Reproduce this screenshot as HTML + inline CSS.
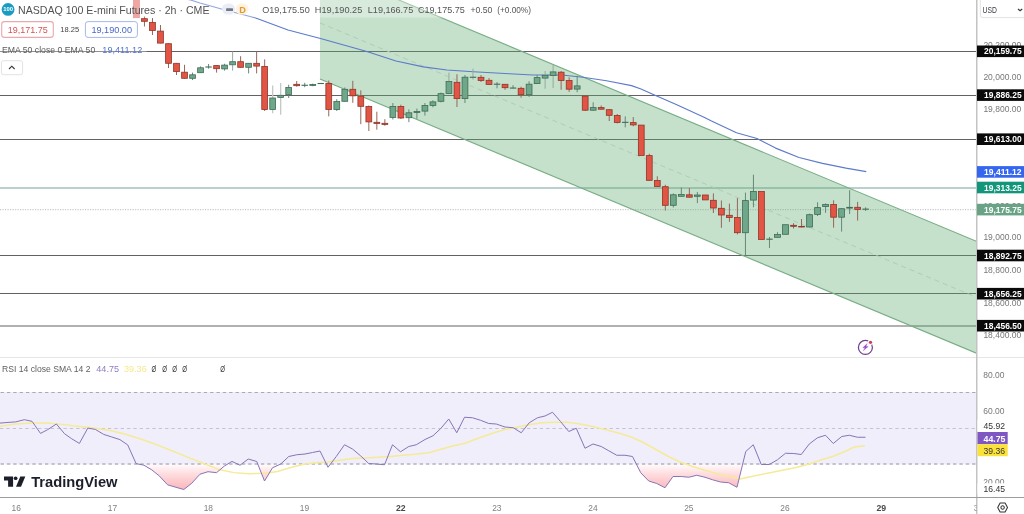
<!DOCTYPE html>
<html><head><meta charset="utf-8"><title>NQ chart</title>
<style>html,body{margin:0;padding:0;background:#fff;overflow:hidden}body{width:1024px;height:514px;position:relative;font-family:"Liberation Sans",sans-serif}</style></head>
<body>
<svg width="1024" height="514" viewBox="0 0 1024 514" style="position:absolute;left:0;top:0;will-change:transform;font-family:'Liberation Sans',sans-serif">
<defs><linearGradient id="os" x1="0" y1="464" x2="0" y2="490" gradientUnits="userSpaceOnUse"><stop offset="0" stop-color="#ff8f96" stop-opacity="0.02"/><stop offset="1" stop-color="#f9a3a9" stop-opacity="0.8"/></linearGradient>
<clipPath id="cp"><rect x="0" y="0" width="977" height="357"/></clipPath>
<clipPath id="cr"><rect x="0" y="358" width="977" height="139"/></clipPath></defs>
<rect width="1024" height="514" fill="#fff"/>
<g clip-path="url(#cp)">
<line x1="0" y1="209.7" x2="977" y2="209.7" stroke="#c9c9cf" stroke-width="1.3" stroke-dasharray="1.2 1.3"/>
<line x1="0" y1="51.5" x2="977" y2="51.5" stroke="#626262" stroke-width="1"/>
<line x1="0" y1="95.5" x2="977" y2="95.5" stroke="#626262" stroke-width="1"/>
<line x1="0" y1="139.5" x2="977" y2="139.5" stroke="#626262" stroke-width="1"/>
<line x1="0" y1="255.5" x2="977" y2="255.5" stroke="#626262" stroke-width="1"/>
<line x1="0" y1="293.5" x2="977" y2="293.5" stroke="#626262" stroke-width="1"/>
<line x1="0" y1="326.0" x2="977" y2="326.0" stroke="#626262" stroke-width="1"/>
<line x1="0" y1="188" x2="977" y2="188" stroke="#bad0cc" stroke-width="2"/>
<polygon points="320,-33.0 977,241.6 977,353.4 320,78.9" fill="#5fa870" fill-opacity="0.36"/>
<line x1="320" y1="-33.0" x2="977" y2="241.6" stroke="#78ad84" stroke-width="1.1"/>
<line x1="320" y1="78.9" x2="977" y2="353.4" stroke="#78ad84" stroke-width="1.1"/>
<line x1="320" y1="22.950000000000003" x2="977" y2="297.5" stroke="#b0cdb4" stroke-width="1" stroke-dasharray="5 4"/>
<polyline points="186.00,-1.00 190.50,0.00 200.00,3.00 225.00,10.00 255.00,17.80 288.00,30.00 320.50,38.50 366.00,51.25 396.00,61.00 423.40,66.90 446.90,70.00 473.40,71.80 509.40,73.75 532.80,75.00 556.00,75.00 564.30,75.20 583.00,77.30 606.50,80.80 631.50,85.60 641.00,89.00 655.00,95.30 676.80,104.70 704.00,117.20 711.50,121.00 736.50,132.70 757.00,138.50 775.60,148.10 799.00,157.50 822.50,163.40 846.00,168.10 866.25,171.60" fill="none" stroke="#5c7bcb" stroke-width="1.15" stroke-linejoin="round"/>
<rect x="133.55" y="-4.70" width="5.8" height="22.40" fill="#f0a7a3" stroke="#e79c98" stroke-width="0.8"/>
<line x1="144.46" y1="16.4" x2="144.46" y2="26.5" stroke="#96665b" stroke-width="1"/>
<rect x="141.56" y="18.70" width="5.8" height="2.60" fill="#e25444" stroke="#8e3629" stroke-width="0.8"/>
<line x1="152.48" y1="18" x2="152.48" y2="35" stroke="#96665b" stroke-width="1"/>
<rect x="149.58" y="22.50" width="5.8" height="8.00" fill="#e25444" stroke="#8e3629" stroke-width="0.8"/>
<line x1="160.49" y1="25" x2="160.49" y2="43.4" stroke="#96665b" stroke-width="1"/>
<rect x="157.59" y="31.10" width="5.8" height="12.00" fill="#e25444" stroke="#8e3629" stroke-width="0.8"/>
<line x1="168.50" y1="43.4" x2="168.50" y2="68" stroke="#96665b" stroke-width="1"/>
<rect x="165.60" y="43.70" width="5.8" height="19.60" fill="#e25444" stroke="#8e3629" stroke-width="0.8"/>
<line x1="176.51" y1="63" x2="176.51" y2="75" stroke="#96665b" stroke-width="1"/>
<rect x="173.61" y="63.30" width="5.8" height="8.30" fill="#e25444" stroke="#8e3629" stroke-width="0.8"/>
<line x1="184.53" y1="64.8" x2="184.53" y2="78.6" stroke="#96665b" stroke-width="1"/>
<rect x="181.63" y="72.20" width="5.8" height="6.10" fill="#e25444" stroke="#8e3629" stroke-width="0.8"/>
<line x1="192.54" y1="72.6" x2="192.54" y2="80" stroke="#66877a" stroke-width="1"/>
<rect x="189.64" y="74.80" width="5.8" height="3.50" fill="#6ea789" stroke="#3f6b55" stroke-width="0.8"/>
<line x1="200.55" y1="66.4" x2="200.55" y2="73" stroke="#66877a" stroke-width="1"/>
<rect x="197.65" y="67.80" width="5.8" height="4.90" fill="#6ea789" stroke="#3f6b55" stroke-width="0.8"/>
<line x1="208.57" y1="64" x2="208.57" y2="68.7" stroke="#66877a" stroke-width="1"/>
<line x1="205.37" y1="67.00" x2="211.77" y2="67.00" stroke="#3f6b55" stroke-width="1.1"/>
<line x1="216.58" y1="65.3" x2="216.58" y2="72.6" stroke="#96665b" stroke-width="1"/>
<rect x="213.68" y="65.60" width="5.8" height="3.10" fill="#e25444" stroke="#8e3629" stroke-width="0.8"/>
<line x1="224.59" y1="63.75" x2="224.59" y2="70.6" stroke="#66877a" stroke-width="1"/>
<rect x="221.69" y="65.10" width="5.8" height="3.80" fill="#6ea789" stroke="#3f6b55" stroke-width="0.8"/>
<line x1="232.61" y1="51.5" x2="232.61" y2="70.6" stroke="#95aaa0" stroke-width="1"/>
<rect x="229.71" y="61.70" width="5.8" height="3.10" fill="#6ea789" stroke="#3f6b55" stroke-width="0.8"/>
<line x1="240.62" y1="56.2" x2="240.62" y2="67.6" stroke="#96665b" stroke-width="1"/>
<rect x="237.72" y="61.70" width="5.8" height="5.60" fill="#e25444" stroke="#8e3629" stroke-width="0.8"/>
<line x1="248.63" y1="63" x2="248.63" y2="73.4" stroke="#66877a" stroke-width="1"/>
<rect x="245.73" y="63.30" width="5.8" height="4.00" fill="#6ea789" stroke="#3f6b55" stroke-width="0.8"/>
<line x1="256.64" y1="51.5" x2="256.64" y2="73.4" stroke="#96665b" stroke-width="1"/>
<rect x="253.74" y="63.30" width="5.8" height="2.80" fill="#e25444" stroke="#8e3629" stroke-width="0.8"/>
<line x1="264.66" y1="59.4" x2="264.66" y2="111" stroke="#96665b" stroke-width="1"/>
<rect x="261.76" y="66.40" width="5.8" height="43.10" fill="#e25444" stroke="#8e3629" stroke-width="0.8"/>
<line x1="272.67" y1="85.6" x2="272.67" y2="113.3" stroke="#c4c8c6" stroke-width="1.3"/>
<rect x="269.77" y="98.00" width="5.8" height="11.50" fill="#6ea789" stroke="#3f6b55" stroke-width="0.8"/>
<line x1="280.68" y1="83" x2="280.68" y2="114.8" stroke="#c4c8c6" stroke-width="1.3"/>
<rect x="277.78" y="95.30" width="5.8" height="2.10" fill="#6ea789" stroke="#3f6b55" stroke-width="0.8"/>
<line x1="288.70" y1="84.7" x2="288.70" y2="98" stroke="#66877a" stroke-width="1"/>
<rect x="285.80" y="87.50" width="5.8" height="7.20" fill="#6ea789" stroke="#3f6b55" stroke-width="0.8"/>
<line x1="296.71" y1="81" x2="296.71" y2="86.7" stroke="#96665b" stroke-width="1"/>
<rect x="293.81" y="84.30" width="5.8" height="1.40" fill="#e25444" stroke="#8e3629" stroke-width="0.8"/>
<line x1="304.72" y1="82.8" x2="304.72" y2="87.2" stroke="#66877a" stroke-width="1"/>
<line x1="301.52" y1="85.30" x2="307.92" y2="85.30" stroke="#3f6b55" stroke-width="1.1"/>
<line x1="312.74" y1="83.6" x2="312.74" y2="86.25" stroke="#66877a" stroke-width="1"/>
<rect x="309.84" y="84.50" width="5.8" height="1.00" fill="#6ea789" stroke="#3f6b55" stroke-width="0.8"/>
<line x1="317.55" y1="83.50" x2="323.95" y2="83.50" stroke="#3f6b55" stroke-width="1.1"/>
<line x1="328.76" y1="80.5" x2="328.76" y2="116.4" stroke="#96665b" stroke-width="1"/>
<rect x="325.86" y="83.40" width="5.8" height="26.10" fill="#e25444" stroke="#8e3629" stroke-width="0.8"/>
<line x1="336.77" y1="99.2" x2="336.77" y2="111" stroke="#66877a" stroke-width="1"/>
<rect x="333.88" y="101.50" width="5.8" height="8.00" fill="#6ea789" stroke="#3f6b55" stroke-width="0.8"/>
<line x1="344.79" y1="87.5" x2="344.79" y2="101.6" stroke="#66877a" stroke-width="1"/>
<rect x="341.89" y="89.30" width="5.8" height="12.00" fill="#6ea789" stroke="#3f6b55" stroke-width="0.8"/>
<line x1="352.80" y1="80.8" x2="352.80" y2="102.8" stroke="#96665b" stroke-width="1"/>
<rect x="349.90" y="89.30" width="5.8" height="6.50" fill="#e25444" stroke="#8e3629" stroke-width="0.8"/>
<line x1="360.81" y1="90.3" x2="360.81" y2="124.2" stroke="#96665b" stroke-width="1"/>
<rect x="357.91" y="96.10" width="5.8" height="10.20" fill="#e25444" stroke="#8e3629" stroke-width="0.8"/>
<line x1="368.83" y1="105.5" x2="368.83" y2="131" stroke="#96665b" stroke-width="1"/>
<rect x="365.93" y="106.50" width="5.8" height="15.40" fill="#e25444" stroke="#8e3629" stroke-width="0.8"/>
<line x1="376.84" y1="111.7" x2="376.84" y2="129.7" stroke="#96665b" stroke-width="1"/>
<rect x="373.94" y="122.30" width="5.8" height="1.20" fill="#e25444" stroke="#8e3629" stroke-width="0.8"/>
<line x1="384.85" y1="119.2" x2="384.85" y2="125.8" stroke="#96665b" stroke-width="1"/>
<rect x="381.95" y="123.30" width="5.8" height="1.10" fill="#e25444" stroke="#8e3629" stroke-width="0.8"/>
<line x1="392.87" y1="103" x2="392.87" y2="119.5" stroke="#66877a" stroke-width="1"/>
<rect x="389.97" y="106.50" width="5.8" height="10.90" fill="#6ea789" stroke="#3f6b55" stroke-width="0.8"/>
<line x1="400.88" y1="104.7" x2="400.88" y2="119" stroke="#96665b" stroke-width="1"/>
<rect x="397.98" y="106.50" width="5.8" height="11.50" fill="#e25444" stroke="#8e3629" stroke-width="0.8"/>
<line x1="408.89" y1="109.4" x2="408.89" y2="122.2" stroke="#66877a" stroke-width="1"/>
<rect x="405.99" y="112.80" width="5.8" height="4.90" fill="#6ea789" stroke="#3f6b55" stroke-width="0.8"/>
<line x1="416.90" y1="108.6" x2="416.90" y2="118.8" stroke="#66877a" stroke-width="1"/>
<rect x="414.00" y="111.50" width="5.8" height="1.00" fill="#6ea789" stroke="#3f6b55" stroke-width="0.8"/>
<line x1="424.92" y1="103" x2="424.92" y2="115.6" stroke="#66877a" stroke-width="1"/>
<rect x="422.02" y="105.50" width="5.8" height="5.60" fill="#6ea789" stroke="#3f6b55" stroke-width="0.8"/>
<line x1="432.93" y1="100.3" x2="432.93" y2="107.3" stroke="#66877a" stroke-width="1"/>
<rect x="430.03" y="101.90" width="5.8" height="3.60" fill="#6ea789" stroke="#3f6b55" stroke-width="0.8"/>
<line x1="440.94" y1="92.5" x2="440.94" y2="102.3" stroke="#66877a" stroke-width="1"/>
<rect x="438.04" y="93.70" width="5.8" height="7.60" fill="#6ea789" stroke="#3f6b55" stroke-width="0.8"/>
<line x1="448.96" y1="72.6" x2="448.96" y2="93.8" stroke="#95aaa0" stroke-width="1"/>
<rect x="446.06" y="81.50" width="5.8" height="12.00" fill="#6ea789" stroke="#3f6b55" stroke-width="0.8"/>
<line x1="456.97" y1="74.2" x2="456.97" y2="107" stroke="#96665b" stroke-width="1"/>
<rect x="454.07" y="82.30" width="5.8" height="16.30" fill="#e25444" stroke="#8e3629" stroke-width="0.8"/>
<line x1="464.98" y1="75" x2="464.98" y2="103" stroke="#66877a" stroke-width="1"/>
<rect x="462.08" y="77.20" width="5.8" height="21.40" fill="#6ea789" stroke="#3f6b55" stroke-width="0.8"/>
<line x1="473.00" y1="68.75" x2="473.00" y2="79.7" stroke="#95aaa0" stroke-width="1"/>
<line x1="469.80" y1="77.25" x2="476.20" y2="77.25" stroke="#3f6b55" stroke-width="1.1"/>
<line x1="481.01" y1="75" x2="481.01" y2="82" stroke="#96665b" stroke-width="1"/>
<rect x="478.11" y="77.30" width="5.8" height="3.20" fill="#e25444" stroke="#8e3629" stroke-width="0.8"/>
<line x1="489.02" y1="78.1" x2="489.02" y2="84.7" stroke="#96665b" stroke-width="1"/>
<rect x="486.12" y="80.30" width="5.8" height="4.10" fill="#e25444" stroke="#8e3629" stroke-width="0.8"/>
<line x1="497.03" y1="82" x2="497.03" y2="88.3" stroke="#66877a" stroke-width="1"/>
<line x1="493.83" y1="84.20" x2="500.23" y2="84.20" stroke="#3f6b55" stroke-width="1.1"/>
<line x1="505.05" y1="84" x2="505.05" y2="89.8" stroke="#96665b" stroke-width="1"/>
<rect x="502.15" y="84.30" width="5.8" height="3.40" fill="#e25444" stroke="#8e3629" stroke-width="0.8"/>
<line x1="513.06" y1="85.2" x2="513.06" y2="88.4" stroke="#66877a" stroke-width="1"/>
<line x1="509.86" y1="88.05" x2="516.26" y2="88.05" stroke="#3f6b55" stroke-width="1.1"/>
<line x1="521.07" y1="86.7" x2="521.07" y2="97.7" stroke="#96665b" stroke-width="1"/>
<rect x="518.17" y="88.30" width="5.8" height="6.40" fill="#e25444" stroke="#8e3629" stroke-width="0.8"/>
<line x1="529.09" y1="81.25" x2="529.09" y2="96.9" stroke="#66877a" stroke-width="1"/>
<rect x="526.19" y="84.20" width="5.8" height="10.50" fill="#6ea789" stroke="#3f6b55" stroke-width="0.8"/>
<line x1="537.10" y1="75" x2="537.10" y2="83.9" stroke="#66877a" stroke-width="1"/>
<rect x="534.20" y="77.60" width="5.8" height="6.00" fill="#6ea789" stroke="#3f6b55" stroke-width="0.8"/>
<line x1="545.11" y1="71" x2="545.11" y2="88.75" stroke="#95aaa0" stroke-width="1"/>
<rect x="542.21" y="75.30" width="5.8" height="2.80" fill="#6ea789" stroke="#3f6b55" stroke-width="0.8"/>
<line x1="553.13" y1="64.8" x2="553.13" y2="88" stroke="#95aaa0" stroke-width="1"/>
<rect x="550.23" y="71.90" width="5.8" height="3.60" fill="#6ea789" stroke="#3f6b55" stroke-width="0.8"/>
<line x1="561.14" y1="71" x2="561.14" y2="89.8" stroke="#96665b" stroke-width="1"/>
<rect x="558.24" y="72.20" width="5.8" height="8.30" fill="#e25444" stroke="#8e3629" stroke-width="0.8"/>
<line x1="569.15" y1="77.3" x2="569.15" y2="91.9" stroke="#96665b" stroke-width="1"/>
<rect x="566.25" y="80.50" width="5.8" height="8.70" fill="#e25444" stroke="#8e3629" stroke-width="0.8"/>
<line x1="577.16" y1="75.8" x2="577.16" y2="92.2" stroke="#66877a" stroke-width="1"/>
<rect x="574.26" y="85.90" width="5.8" height="3.20" fill="#6ea789" stroke="#3f6b55" stroke-width="0.8"/>
<line x1="585.18" y1="95.8" x2="585.18" y2="111" stroke="#96665b" stroke-width="1"/>
<rect x="582.28" y="96.10" width="5.8" height="14.10" fill="#e25444" stroke="#8e3629" stroke-width="0.8"/>
<line x1="593.19" y1="102.3" x2="593.19" y2="110.5" stroke="#66877a" stroke-width="1"/>
<rect x="590.29" y="107.60" width="5.8" height="2.60" fill="#6ea789" stroke="#3f6b55" stroke-width="0.8"/>
<line x1="601.20" y1="105.5" x2="601.20" y2="109.5" stroke="#96665b" stroke-width="1"/>
<rect x="598.30" y="107.60" width="5.8" height="1.60" fill="#e25444" stroke="#8e3629" stroke-width="0.8"/>
<line x1="609.22" y1="109.4" x2="609.22" y2="121" stroke="#96665b" stroke-width="1"/>
<rect x="606.32" y="109.70" width="5.8" height="5.60" fill="#e25444" stroke="#8e3629" stroke-width="0.8"/>
<line x1="617.23" y1="114" x2="617.23" y2="123.4" stroke="#96665b" stroke-width="1"/>
<rect x="614.33" y="115.50" width="5.8" height="6.90" fill="#e25444" stroke="#8e3629" stroke-width="0.8"/>
<line x1="625.24" y1="116.4" x2="625.24" y2="127.3" stroke="#66877a" stroke-width="1"/>
<line x1="622.04" y1="122.35" x2="628.44" y2="122.35" stroke="#3f6b55" stroke-width="1.1"/>
<line x1="633.26" y1="117.1" x2="633.26" y2="126.25" stroke="#96665b" stroke-width="1"/>
<rect x="630.36" y="122.60" width="5.8" height="2.30" fill="#e25444" stroke="#8e3629" stroke-width="0.8"/>
<rect x="638.37" y="125.10" width="5.8" height="30.40" fill="#e25444" stroke="#8e3629" stroke-width="0.8"/>
<line x1="649.28" y1="153.75" x2="649.28" y2="180.6" stroke="#96665b" stroke-width="1"/>
<rect x="646.38" y="155.60" width="5.8" height="24.70" fill="#e25444" stroke="#8e3629" stroke-width="0.8"/>
<line x1="657.30" y1="176.3" x2="657.30" y2="186.8" stroke="#96665b" stroke-width="1"/>
<rect x="654.40" y="180.50" width="5.8" height="6.00" fill="#e25444" stroke="#8e3629" stroke-width="0.8"/>
<line x1="665.31" y1="184.8" x2="665.31" y2="210.6" stroke="#96665b" stroke-width="1"/>
<rect x="662.41" y="186.70" width="5.8" height="18.60" fill="#e25444" stroke="#8e3629" stroke-width="0.8"/>
<line x1="673.32" y1="193.4" x2="673.32" y2="207.5" stroke="#66877a" stroke-width="1"/>
<rect x="670.42" y="194.80" width="5.8" height="10.50" fill="#6ea789" stroke="#3f6b55" stroke-width="0.8"/>
<line x1="681.33" y1="187.5" x2="681.33" y2="196.6" stroke="#66877a" stroke-width="1"/>
<rect x="678.43" y="194.50" width="5.8" height="1.80" fill="#6ea789" stroke="#3f6b55" stroke-width="0.8"/>
<line x1="689.35" y1="188" x2="689.35" y2="197.5" stroke="#96665b" stroke-width="1"/>
<rect x="686.45" y="194.80" width="5.8" height="2.40" fill="#e25444" stroke="#8e3629" stroke-width="0.8"/>
<line x1="697.36" y1="191.9" x2="697.36" y2="203.1" stroke="#66877a" stroke-width="1"/>
<rect x="694.46" y="195.00" width="5.8" height="1.30" fill="#6ea789" stroke="#3f6b55" stroke-width="0.8"/>
<rect x="702.47" y="195.00" width="5.8" height="4.90" fill="#e25444" stroke="#8e3629" stroke-width="0.8"/>
<line x1="713.39" y1="193.4" x2="713.39" y2="213" stroke="#96665b" stroke-width="1"/>
<rect x="710.49" y="200.30" width="5.8" height="7.70" fill="#e25444" stroke="#8e3629" stroke-width="0.8"/>
<line x1="721.40" y1="200.5" x2="721.40" y2="227.8" stroke="#96665b" stroke-width="1"/>
<rect x="718.50" y="208.30" width="5.8" height="6.70" fill="#e25444" stroke="#8e3629" stroke-width="0.8"/>
<line x1="729.41" y1="203.6" x2="729.41" y2="221.9" stroke="#96665b" stroke-width="1"/>
<rect x="726.51" y="215.30" width="5.8" height="2.10" fill="#e25444" stroke="#8e3629" stroke-width="0.8"/>
<line x1="737.42" y1="198.1" x2="737.42" y2="234.4" stroke="#96665b" stroke-width="1"/>
<rect x="734.52" y="217.50" width="5.8" height="15.20" fill="#e25444" stroke="#8e3629" stroke-width="0.8"/>
<line x1="745.44" y1="192.6" x2="745.44" y2="255" stroke="#66877a" stroke-width="1"/>
<rect x="742.54" y="200.60" width="5.8" height="32.10" fill="#6ea789" stroke="#3f6b55" stroke-width="0.8"/>
<line x1="753.45" y1="174.7" x2="753.45" y2="207.3" stroke="#66877a" stroke-width="1"/>
<rect x="750.55" y="191.50" width="5.8" height="8.60" fill="#6ea789" stroke="#3f6b55" stroke-width="0.8"/>
<rect x="758.56" y="191.50" width="5.8" height="48.00" fill="#e25444" stroke="#8e3629" stroke-width="0.8"/>
<line x1="769.48" y1="237" x2="769.48" y2="248" stroke="#66877a" stroke-width="1"/>
<line x1="766.28" y1="239.20" x2="772.68" y2="239.20" stroke="#3f6b55" stroke-width="1.1"/>
<line x1="777.49" y1="232.2" x2="777.49" y2="237.6" stroke="#66877a" stroke-width="1"/>
<rect x="774.59" y="234.50" width="5.8" height="2.80" fill="#6ea789" stroke="#3f6b55" stroke-width="0.8"/>
<rect x="782.60" y="224.70" width="5.8" height="9.60" fill="#6ea789" stroke="#3f6b55" stroke-width="0.8"/>
<line x1="793.52" y1="223.2" x2="793.52" y2="228.5" stroke="#96665b" stroke-width="1"/>
<rect x="790.62" y="225.30" width="5.8" height="1.00" fill="#e25444" stroke="#8e3629" stroke-width="0.8"/>
<line x1="801.53" y1="219" x2="801.53" y2="227.3" stroke="#96665b" stroke-width="1"/>
<rect x="798.63" y="226.40" width="5.8" height="0.60" fill="#e25444" stroke="#8e3629" stroke-width="0.8"/>
<line x1="809.54" y1="213.6" x2="809.54" y2="227.3" stroke="#66877a" stroke-width="1"/>
<rect x="806.64" y="214.70" width="5.8" height="12.30" fill="#6ea789" stroke="#3f6b55" stroke-width="0.8"/>
<line x1="817.56" y1="202.3" x2="817.56" y2="216" stroke="#66877a" stroke-width="1"/>
<rect x="814.66" y="207.60" width="5.8" height="6.80" fill="#6ea789" stroke="#3f6b55" stroke-width="0.8"/>
<line x1="825.57" y1="203.4" x2="825.57" y2="212.8" stroke="#66877a" stroke-width="1"/>
<rect x="822.67" y="204.50" width="5.8" height="2.10" fill="#6ea789" stroke="#3f6b55" stroke-width="0.8"/>
<line x1="833.58" y1="200.3" x2="833.58" y2="227.7" stroke="#96665b" stroke-width="1"/>
<rect x="830.68" y="204.50" width="5.8" height="12.70" fill="#e25444" stroke="#8e3629" stroke-width="0.8"/>
<line x1="841.59" y1="208.4" x2="841.59" y2="231.6" stroke="#66877a" stroke-width="1"/>
<rect x="838.69" y="208.70" width="5.8" height="8.50" fill="#6ea789" stroke="#3f6b55" stroke-width="0.8"/>
<line x1="849.61" y1="190.2" x2="849.61" y2="214" stroke="#66877a" stroke-width="1"/>
<rect x="846.71" y="207.30" width="5.8" height="0.80" fill="#6ea789" stroke="#3f6b55" stroke-width="0.8"/>
<line x1="857.62" y1="201.9" x2="857.62" y2="220.6" stroke="#96665b" stroke-width="1"/>
<rect x="854.72" y="207.30" width="5.8" height="2.10" fill="#e25444" stroke="#8e3629" stroke-width="0.8"/>
<line x1="865.63" y1="207.3" x2="865.63" y2="211" stroke="#66877a" stroke-width="1"/>
<line x1="862.43" y1="209.15" x2="868.83" y2="209.15" stroke="#3f6b55" stroke-width="1.1"/>
</g>
<line x1="0" y1="357.5" x2="1024" y2="357.5" stroke="#e6e6e6" stroke-width="1"/>
<g clip-path="url(#cr)">
<rect x="0" y="392" width="977" height="72.4" fill="#f0eefa"/>
<line x1="0.6" y1="392.5" x2="977" y2="392.5" stroke="#a9a9b6" stroke-width="1" stroke-dasharray="3.3 3.05" opacity="1"/>
<line x1="0.6" y1="464.0" x2="977" y2="464.0" stroke="#a9a9b6" stroke-width="1.5" stroke-dasharray="3.3 3.05" opacity="0.85"/>
<line x1="0" y1="428.5" x2="977" y2="428.5" stroke="#c4c2d3" stroke-width="1" stroke-dasharray="3.3 3.05"/>
<clipPath id="below"><rect x="0" y="464.0" width="977" height="60"/></clipPath>
<polygon points="0.00,464.00 0.00,423.10 6.90,422.50 15.60,421.90 24.30,419.70 32.00,421.30 40.50,433.40 47.60,429.70 56.40,424.00 64.50,433.70 71.60,438.70 79.40,443.40 87.80,428.10 95.30,429.40 103.70,434.40 111.50,436.90 119.90,439.60 127.70,444.90 136.10,463.60 143.90,465.20 151.70,469.80 159.50,476.10 167.50,484.80 176.00,487.30 183.80,489.50 191.80,483.20 200.00,474.20 208.00,471.70 216.50,472.70 224.30,466.10 232.00,461.40 240.00,465.25 248.25,459.00 256.75,461.50 264.50,481.00 272.50,467.75 280.75,464.00 288.75,456.50 296.75,454.75 305.00,454.00 312.50,452.50 320.00,451.00 328.00,467.25 336.25,456.50 344.50,444.75 352.50,449.00 360.50,455.75 368.75,463.50 376.25,464.00 384.50,464.75 392.50,444.75 400.50,451.75 408.75,446.50 416.25,444.75 425.00,439.50 433.00,435.75 440.75,428.50 448.75,419.00 456.75,432.75 464.50,417.25 472.50,417.75 480.50,420.25 488.75,423.50 496.25,424.00 505.00,427.00 513.25,427.75 521.25,432.75 529.25,422.75 537.50,417.75 545.00,416.00 552.50,412.25 560.50,421.50 568.75,431.50 576.25,428.25 585.00,448.25 593.00,444.00 601.25,446.50 608.75,450.75 616.75,455.25 625.00,455.25 632.50,456.50 640.75,472.75 648.75,481.00 656.75,483.50 665.00,487.75 673.00,476.50 681.25,476.50 688.75,477.25 696.75,475.25 705.00,477.25 712.50,479.75 720.50,482.00 728.75,482.75 737.00,487.25 745.75,451.50 753.25,444.75 761.25,464.50 769.25,464.50 777.50,459.75 785.50,453.25 793.75,453.50 801.25,454.50 809.25,444.00 817.50,437.75 825.50,435.25 833.25,443.50 841.75,436.50 849.25,435.25 857.50,437.25 865.50,437.25 865.50,464.00" fill="url(#os)" clip-path="url(#below)"/>
<polyline points="0.00,426.20 15.60,424.00 31.00,423.00 46.70,423.00 62.00,424.40 78.00,426.20 93.40,428.00 109.00,430.30 124.60,434.00 140.00,438.70 155.70,444.30 171.30,450.50 186.90,456.80 202.40,463.00 218.00,469.20 233.60,472.60 249.00,473.70 265.00,473.25 277.50,471.50 290.00,467.75 302.50,464.50 315.00,462.75 327.50,462.00 340.00,460.25 352.50,458.50 365.00,458.00 377.50,457.25 390.00,456.50 402.50,455.25 415.00,454.25 430.00,452.50 440.00,449.50 452.50,446.00 465.00,443.25 477.50,438.50 492.50,433.25 505.00,429.50 517.50,427.00 530.00,424.50 542.50,422.75 555.00,422.25 567.50,422.25 580.00,424.00 592.50,426.50 605.00,429.50 617.50,432.75 630.00,436.50 642.50,442.00 655.00,449.00 667.50,456.00 680.00,462.00 692.50,466.50 705.00,470.25 717.50,474.00 730.00,476.50 740.00,479.00 757.50,475.25 770.00,472.75 782.50,470.25 795.00,467.75 807.50,464.50 820.00,460.25 832.50,456.50 845.00,451.50 852.50,447.75 857.50,446.50 865.00,446.00" fill="none" stroke="#f5ea98" stroke-width="1.45" stroke-linejoin="round"/>
<polyline points="0.00,423.10 6.90,422.50 15.60,421.90 24.30,419.70 32.00,421.30 40.50,433.40 47.60,429.70 56.40,424.00 64.50,433.70 71.60,438.70 79.40,443.40 87.80,428.10 95.30,429.40 103.70,434.40 111.50,436.90 119.90,439.60 127.70,444.90 136.10,463.60 143.90,465.20 151.70,469.80 159.50,476.10 167.50,484.80 176.00,487.30 183.80,489.50 191.80,483.20 200.00,474.20 208.00,471.70 216.50,472.70 224.30,466.10 232.00,461.40 240.00,465.25 248.25,459.00 256.75,461.50 264.50,481.00 272.50,467.75 280.75,464.00 288.75,456.50 296.75,454.75 305.00,454.00 312.50,452.50 320.00,451.00 328.00,467.25 336.25,456.50 344.50,444.75 352.50,449.00 360.50,455.75 368.75,463.50 376.25,464.00 384.50,464.75 392.50,444.75 400.50,451.75 408.75,446.50 416.25,444.75 425.00,439.50 433.00,435.75 440.75,428.50 448.75,419.00 456.75,432.75 464.50,417.25 472.50,417.75 480.50,420.25 488.75,423.50 496.25,424.00 505.00,427.00 513.25,427.75 521.25,432.75 529.25,422.75 537.50,417.75 545.00,416.00 552.50,412.25 560.50,421.50 568.75,431.50 576.25,428.25 585.00,448.25 593.00,444.00 601.25,446.50 608.75,450.75 616.75,455.25 625.00,455.25 632.50,456.50 640.75,472.75 648.75,481.00 656.75,483.50 665.00,487.75 673.00,476.50 681.25,476.50 688.75,477.25 696.75,475.25 705.00,477.25 712.50,479.75 720.50,482.00 728.75,482.75 737.00,487.25 745.75,451.50 753.25,444.75 761.25,464.50 769.25,464.50 777.50,459.75 785.50,453.25 793.75,453.50 801.25,454.50 809.25,444.00 817.50,437.75 825.50,435.25 833.25,443.50 841.75,436.50 849.25,435.25 857.50,437.25 865.50,437.25" fill="none" stroke="#8775b6" stroke-width="1" stroke-linejoin="round"/>
</g>
<line x1="976.75" y1="0" x2="976.75" y2="514" stroke="#c3c3c3" stroke-width="1.5"/>
<line x1="0" y1="497.5" x2="1024" y2="497.5" stroke="#9c9c9c" stroke-width="1"/>
<text x="983.4" y="47.8" font-size="9.0" fill="#787878" font-weight="normal" text-anchor="start" textLength="37.8" lengthAdjust="spacingAndGlyphs">20,200.00</text>
<text x="983.4" y="80" font-size="9.0" fill="#787878" font-weight="normal" text-anchor="start" textLength="37.8" lengthAdjust="spacingAndGlyphs">20,000.00</text>
<text x="983.4" y="112.3" font-size="9.0" fill="#787878" font-weight="normal" text-anchor="start" textLength="37.8" lengthAdjust="spacingAndGlyphs">19,800.00</text>
<text x="983.4" y="208.6" font-size="9.0" fill="#787878" font-weight="normal" text-anchor="start" textLength="37.8" lengthAdjust="spacingAndGlyphs">19,200.00</text>
<text x="983.4" y="239.8" font-size="9.0" fill="#787878" font-weight="normal" text-anchor="start" textLength="37.8" lengthAdjust="spacingAndGlyphs">19,000.00</text>
<text x="983.4" y="273.3" font-size="9.0" fill="#787878" font-weight="normal" text-anchor="start" textLength="37.8" lengthAdjust="spacingAndGlyphs">18,800.00</text>
<text x="983.4" y="305.5" font-size="9.0" fill="#787878" font-weight="normal" text-anchor="start" textLength="37.8" lengthAdjust="spacingAndGlyphs">18,600.00</text>
<text x="983.4" y="337.7" font-size="9.0" fill="#787878" font-weight="normal" text-anchor="start" textLength="37.8" lengthAdjust="spacingAndGlyphs">18,400.00</text>
<text x="983.3" y="378.2" font-size="9.3" fill="#777" font-weight="normal" text-anchor="start" textLength="21.2" lengthAdjust="spacingAndGlyphs">80.00</text>
<text x="983.3" y="414" font-size="9.3" fill="#777" font-weight="normal" text-anchor="start" textLength="21.2" lengthAdjust="spacingAndGlyphs">60.00</text>
<text x="983.3" y="484.5" font-size="9.3" fill="#777" font-weight="normal" text-anchor="start" textLength="21.2" lengthAdjust="spacingAndGlyphs">20.00</text>
<rect x="977" y="45.50" width="47" height="11.6" fill="#0a0a0a"/>
<text x="984" y="54.4" font-size="8.8" fill="#fff" font-weight="bold" text-anchor="start" textLength="37.6" lengthAdjust="spacingAndGlyphs">20,159.75</text>
<rect x="977" y="89.30" width="47" height="11.6" fill="#0a0a0a"/>
<text x="984" y="98.19999999999999" font-size="8.8" fill="#fff" font-weight="bold" text-anchor="start" textLength="37.6" lengthAdjust="spacingAndGlyphs">19,886.25</text>
<rect x="977" y="133.40" width="47" height="11.6" fill="#0a0a0a"/>
<text x="984" y="142.29999999999998" font-size="8.8" fill="#fff" font-weight="bold" text-anchor="start" textLength="37.6" lengthAdjust="spacingAndGlyphs">19,613.00</text>
<rect x="977" y="249.70" width="47" height="11.6" fill="#0a0a0a"/>
<text x="984" y="258.6" font-size="8.8" fill="#fff" font-weight="bold" text-anchor="start" textLength="37.6" lengthAdjust="spacingAndGlyphs">18,892.75</text>
<rect x="977" y="287.90" width="47" height="11.6" fill="#0a0a0a"/>
<text x="984" y="296.8" font-size="8.8" fill="#fff" font-weight="bold" text-anchor="start" textLength="37.6" lengthAdjust="spacingAndGlyphs">18,656.25</text>
<rect x="977" y="319.90" width="47" height="11.6" fill="#0a0a0a"/>
<text x="984" y="328.8" font-size="8.8" fill="#fff" font-weight="bold" text-anchor="start" textLength="37.6" lengthAdjust="spacingAndGlyphs">18,456.50</text>
<rect x="977" y="166.10" width="47" height="11.6" fill="#3566f0"/>
<text x="984" y="175.0" font-size="8.8" fill="#fff" font-weight="bold" text-anchor="start" textLength="37.6" lengthAdjust="spacingAndGlyphs">19,411.12</text>
<rect x="977" y="181.70" width="47" height="11.6" fill="#12967a"/>
<text x="984" y="190.6" font-size="8.8" fill="#fff" font-weight="bold" text-anchor="start" textLength="37.6" lengthAdjust="spacingAndGlyphs">19,313.25</text>
<rect x="977" y="203.80" width="47" height="11.6" fill="#68a385"/>
<text x="984" y="212.7" font-size="8.8" fill="#fff" font-weight="bold" text-anchor="start" textLength="37.6" lengthAdjust="spacingAndGlyphs">19,175.75</text>
<rect x="977.5" y="419.5" width="32" height="11.5" fill="#fff"/>
<text x="983.5" y="429" font-size="9.3" fill="#333" font-weight="normal" text-anchor="start" textLength="21.5" lengthAdjust="spacingAndGlyphs">45.92</text>
<rect x="977.5" y="432" width="30.2" height="12.2" fill="#7e57c2"/>
<text x="983.5" y="441.6" font-size="9.3" fill="#fff" font-weight="bold" text-anchor="start" textLength="22" lengthAdjust="spacingAndGlyphs">44.75</text>
<rect x="977.5" y="444.2" width="30.2" height="12" fill="#fbe23a"/>
<text x="983.5" y="453.6" font-size="9.3" fill="#333" font-weight="normal" text-anchor="start" textLength="21.5" lengthAdjust="spacingAndGlyphs">39.36</text>
<rect x="977.5" y="483.3" width="32" height="11" fill="#fff"/>
<text x="983.5" y="492.3" font-size="9.3" fill="#333" font-weight="normal" text-anchor="start" textLength="21.5" lengthAdjust="spacingAndGlyphs">16.45</text>
<rect x="980.3" y="-3" width="50" height="20.6" rx="2.5" fill="#fff" stroke="#e3e3e3" stroke-width="1"/>
<text x="982.5" y="13.2" font-size="8.8" fill="#3a3a44" font-weight="normal" text-anchor="start" textLength="14.3" lengthAdjust="spacingAndGlyphs">USD</text>
<path d="M1018 8.9 l2.1 1.8 l2.1 -1.8" fill="none" stroke="#3c3c46" stroke-width="1.3"/>
<text x="16.2" y="510.6" font-size="8.4" fill="#808080" font-weight="normal" text-anchor="middle">16</text>
<text x="112.5" y="510.6" font-size="8.4" fill="#808080" font-weight="normal" text-anchor="middle">17</text>
<text x="208.3" y="510.6" font-size="8.4" fill="#808080" font-weight="normal" text-anchor="middle">18</text>
<text x="304.5" y="510.6" font-size="8.4" fill="#808080" font-weight="normal" text-anchor="middle">19</text>
<text x="400.8" y="510.6" font-size="8.7" fill="#4a4a4a" font-weight="bold" text-anchor="middle">22</text>
<text x="496.8" y="510.6" font-size="8.4" fill="#808080" font-weight="normal" text-anchor="middle">23</text>
<text x="593" y="510.6" font-size="8.4" fill="#808080" font-weight="normal" text-anchor="middle">24</text>
<text x="688.8" y="510.6" font-size="8.4" fill="#808080" font-weight="normal" text-anchor="middle">25</text>
<text x="785" y="510.6" font-size="8.4" fill="#808080" font-weight="normal" text-anchor="middle">26</text>
<text x="881.3" y="510.6" font-size="8.7" fill="#4a4a4a" font-weight="bold" text-anchor="middle">29</text>
<clipPath id="c3"><rect x="0" y="498" width="976.5" height="16"/></clipPath>
<text x="973.7" y="510.6" font-size="8.4" fill="#8a8a8a" font-weight="normal" text-anchor="start" clip-path="url(#c3)">30</text>
<g transform="translate(1002.6 507.5)" fill="none" stroke="#333" stroke-width="1.05" stroke-linejoin="round"><path d="M-2.5 -4.5 h5 l2.4 4.5 l-2.4 4.5 h-5 l-2.4 -4.5 z"/><circle r="1.7"/></g>
<rect x="141" y="0" width="394" height="17.6" fill="#fff" fill-opacity="0.33"/>
<circle cx="8.05" cy="9.45" r="6.4" fill="#1a9cc2"/>
<text x="8.1" y="11.4" font-size="5.4" fill="#fff" font-weight="bold" text-anchor="middle" textLength="9.8" lengthAdjust="spacingAndGlyphs">100</text>
<text x="18" y="13.8" font-size="10.6" fill="#525252" font-weight="normal" text-anchor="start" textLength="191.5" lengthAdjust="spacingAndGlyphs">NASDAQ 100 E-mini Futures · 2h · CME</text>
<rect x="222" y="3.6" width="13.2" height="11" rx="5.5" fill="#eaedf6"/>
<rect x="226.1" y="8.2" width="6.9" height="2.7" rx="0.5" fill="#747884"/>
<rect x="235.8" y="3.6" width="12.8" height="11" rx="5.5" fill="#fff2df"/>
<text x="242.5" y="12.5" font-size="9.2" fill="#e39a2c" font-weight="bold" text-anchor="middle">D</text>
<text x="262.2" y="12.8" font-size="9.0" fill="#555" font-weight="normal" text-anchor="start" textLength="47.5" lengthAdjust="spacingAndGlyphs">O19,175.50</text>
<text x="314.8" y="12.8" font-size="9.0" fill="#555" font-weight="normal" text-anchor="start" textLength="47.5" lengthAdjust="spacingAndGlyphs">H19,190.25</text>
<text x="367.8" y="12.8" font-size="9.0" fill="#555" font-weight="normal" text-anchor="start" textLength="45.4" lengthAdjust="spacingAndGlyphs">L19,166.75</text>
<text x="418" y="12.8" font-size="9.0" fill="#555" font-weight="normal" text-anchor="start" textLength="46.8" lengthAdjust="spacingAndGlyphs">C19,175.75</text>
<text x="470.5" y="12.8" font-size="9.0" fill="#555" font-weight="normal" text-anchor="start" textLength="21.8" lengthAdjust="spacingAndGlyphs">+0.50</text>
<text x="497.2" y="12.8" font-size="9.0" fill="#555" font-weight="normal" text-anchor="start" textLength="33.8" lengthAdjust="spacingAndGlyphs">(+0.00%)</text>
<rect x="1.7" y="21.6" width="51.6" height="15.8" rx="2.6" fill="#fff" stroke="#eaa9ad" stroke-width="1.1"/>
<text x="7.8" y="33" font-size="9.2" fill="#d65353" font-weight="normal" text-anchor="start" textLength="40" lengthAdjust="spacingAndGlyphs">19,171.75</text>
<text x="60.3" y="32.4" font-size="7.9" fill="#444" font-weight="normal" text-anchor="start" textLength="18.8" lengthAdjust="spacingAndGlyphs">18.25</text>
<rect x="85.4" y="21.6" width="52" height="15.8" rx="2.6" fill="#fff" stroke="#a6b8e8" stroke-width="1"/>
<text x="91.4" y="33" font-size="9.2" fill="#4867c9" font-weight="normal" text-anchor="start" textLength="40.6" lengthAdjust="spacingAndGlyphs">19,190.00</text>
<rect x="0" y="44.5" width="146.5" height="12.5" fill="#fff" fill-opacity="0.3"/>
<text x="1.9" y="53.2" font-size="8.8" fill="#5c5c5c" font-weight="normal" text-anchor="start" textLength="93.4" lengthAdjust="spacingAndGlyphs">EMA 50 close 0 EMA 50</text>
<text x="102.3" y="53.2" font-size="8.8" fill="#5374cf" font-weight="normal" text-anchor="start" textLength="40" lengthAdjust="spacingAndGlyphs">19,411.12</text>
<rect x="1.4" y="60.7" width="21.2" height="14" rx="2" fill="#fff" stroke="#e2e2e2" stroke-width="1"/>
<path d="M9 69 l2.8 -2.8 l2.8 2.8" fill="none" stroke="#333" stroke-width="1.1"/>
<text x="2" y="372.1" font-size="8.6" fill="#606060" font-weight="normal" text-anchor="start" textLength="88.5" lengthAdjust="spacingAndGlyphs">RSI 14 close SMA 14 2</text>
<text x="96.3" y="372.1" font-size="8.6" fill="#8f7cc2" font-weight="normal" text-anchor="start" textLength="22.7" lengthAdjust="spacingAndGlyphs">44.75</text>
<text x="124" y="372.1" font-size="8.6" fill="#f3ea8c" font-weight="normal" text-anchor="start" textLength="22.7" lengthAdjust="spacingAndGlyphs">39.36</text>
<text x="151.6" y="372.2" font-size="8.3" fill="#333" font-weight="normal" text-anchor="start" textLength="4.8" lengthAdjust="spacingAndGlyphs">Ø</text>
<text x="162.29999999999998" y="372.2" font-size="8.3" fill="#333" font-weight="normal" text-anchor="start" textLength="4.8" lengthAdjust="spacingAndGlyphs">Ø</text>
<text x="172.2" y="372.2" font-size="8.3" fill="#333" font-weight="normal" text-anchor="start" textLength="4.8" lengthAdjust="spacingAndGlyphs">Ø</text>
<text x="182.29999999999998" y="372.2" font-size="8.3" fill="#333" font-weight="normal" text-anchor="start" textLength="4.8" lengthAdjust="spacingAndGlyphs">Ø</text>
<text x="220.2" y="372.2" font-size="8.3" fill="#333" font-weight="normal" text-anchor="start" textLength="4.8" lengthAdjust="spacingAndGlyphs">Ø</text>
<g transform="translate(865.4 347.4)"><circle r="7" fill="none" stroke="#70408c" stroke-width="1.25"/><path d="M1.9 -3.95 L-2.7 0.4 H-0.3 L-2.2 3.4 L2.85 -0.8 H0.55 Z" fill="#9a4cc8" stroke="#9a4cc8" stroke-width="0.3" stroke-linejoin="round"/><circle cx="5.1" cy="-5.1" r="2.7" fill="#fff"/><circle cx="5.1" cy="-5.1" r="1.65" fill="#cf3c55"/></g>
<g fill="#1c1e2a"><path d="M4 476.5 H13.1 V486.75 H8.1 V480.6 H4 Z"/><circle cx="15.65" cy="478.25" r="1.85"/><path d="M20.3 476.5 H25.3 L21 486.75 H16 Z"/></g>
<text x="31.2" y="486.75" font-size="14.3" fill="#1c1e2a" font-weight="bold" text-anchor="start" textLength="86.3" lengthAdjust="spacingAndGlyphs">TradingView</text>
</svg>
</body></html>
